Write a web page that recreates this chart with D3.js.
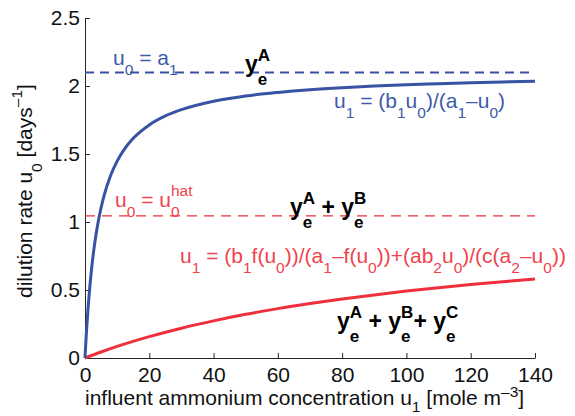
<!DOCTYPE html>
<html>
<head>
<meta charset="utf-8">
<script src="https://cdn.jsdelivr.net/npm/d3@7"></script>
<style>
  body { margin:0; background:#fff; }
  svg { display:block; font-family:"Liberation Sans", Arial, Helvetica, sans-serif; }
</style>
</head>
<body>
<svg id="chart" width="575" height="416"></svg>
<script>
// ===== data =====
const xTicks = [0, 20, 40, 60, 80, 100, 120, 140];
const yTicks = [0, 0.5, 1, 1.5, 2, 2.5];

// blue curve: u1 = (b1 u0)/(a1 - u0)
const blueU1 = [0, 0.25, 0.5, 1, 1.5, 2, 3, 4, 5, 6, 8, 10, 12, 15, 20, 25, 30, 40, 50, 60, 70, 80, 90, 100, 110, 120, 130, 140];
const blueU0 = [0, 0.111, 0.21, 0.382, 0.525, 0.646, 0.84, 0.988, 1.105, 1.2, 1.344, 1.448, 1.527, 1.615, 1.714, 1.78, 1.826, 1.888, 1.927, 1.953, 1.973, 1.988, 2.0, 2.01, 2.017, 2.024, 2.03, 2.035];

// red curve
const redU1 = [0, 5, 10, 20, 30, 40, 50, 60, 70, 80, 90, 100, 110, 120, 130, 140];
const redU0 = [0, 0.044, 0.085, 0.157, 0.219, 0.273, 0.321, 0.363, 0.4, 0.434, 0.464, 0.492, 0.517, 0.54, 0.561, 0.58];

const a1 = 2.1;       // blue dashed level
const u0hat = 1.045;  // red dashed level

const blue = '#3953a4', red = '#ee2f3c';

const svg = d3.select('#chart');
const M = {top:18, right:40, bottom:58, left:85};
const W = 575, H = 416;

const x = d3.scaleLinear().domain([0, 140]).range([M.left, W - M.right]);
const y = d3.scaleLinear().domain([0, 2.5]).range([H - M.bottom, M.top]);

// axes
const xAxisG = svg.append('g')
  .attr('transform', `translate(0,${y(0)})`)
  .call(d3.axisBottom(x).tickValues(xTicks).tickSize(-5).tickSizeOuter(0).tickPadding(9).tickFormat(d3.format('d')));
const yAxisG = svg.append('g')
  .attr('transform', `translate(${x(0)},0)`)
  .call(d3.axisLeft(y).tickValues(yTicks).tickSize(-5).tickSizeOuter(0).tickPadding(5).tickFormat(d => d));
[xAxisG, yAxisG].forEach(g => {
  g.attr('font-family', null).attr('font-size', 21);
  g.selectAll('path, line').attr('stroke', '#262626').attr('stroke-width', 1);
  g.selectAll('text').attr('fill', '#111');
});

// dashed levels
svg.append('line')
  .attr('x1', x(0)).attr('x2', x(140)).attr('y1', y(a1)).attr('y2', y(a1))
  .attr('stroke', blue).attr('stroke-width', 2).attr('stroke-dasharray', '9,6');
svg.append('line')
  .attr('x1', x(0)).attr('x2', x(140)).attr('y1', y(u0hat)).attr('y2', y(u0hat))
  .attr('stroke', red).attr('stroke-width', 1.2).attr('stroke-dasharray', '10,7');

// curves
const line = d3.line().x(d => x(d[0])).y(d => y(d[1])).curve(d3.curveMonotoneX);
svg.append('path').attr('d', line(redU1.map((v, i) => [v, redU0[i]])))
  .attr('fill', 'none').attr('stroke', red).attr('stroke-width', 3);
svg.append('path').attr('d', line(blueU1.map((v, i) => [v, blueU0[i]])))
  .attr('fill', 'none').attr('stroke', blue).attr('stroke-width', 3);

// ===== TeX-like text =====
// mode: n normal, b subscript, p superscript, s superscript stacked over the previous subscript
function tex(g, x0, y0, parts, st){
  let cx = x0, subStart = x0;
  parts.forEach(([s, m]) => {
    const fs = m === 'n' ? st.size : st.size * 0.74;
    let px = cx, py = y0;
    if (m === 'b'){ py = y0 + st.sub; subStart = cx; }
    if (m === 'p'){ py = y0 - st.sup; }
    if (m === 's'){ px = subStart; py = y0 - st.sup; }
    const t = g.append('text').attr('x', px).attr('y', py)
      .attr('font-size', fs).attr('font-weight', st.weight || 'normal')
      .attr('fill', st.color).style('white-space', 'pre').text(s);
    const w = t.node().getComputedTextLength();
    cx = m === 's' ? Math.max(cx, px + w) : px + w;
  });
}

const gLab = svg.append('g');
const blueTxt = {size:21, color:'#3e5ba9', sub:10, sup:10};
const redTxt = {size:21, color:'#f0434d', sub:10, sup:11};
const boldTxt = {size:23, color:'#000', weight:'bold', sub:13, sup:11};

tex(gLab, 113, 65, [['u','n'],['0','b'],[' = a','n'],['1','b']], blueTxt);
tex(gLab, 334, 108, [['u','n'],['1','b'],[' = (b','n'],['1','b'],['u','n'],['0','b'],[')/(a','n'],['1','b'],['–u','n'],['0','b'],[')','n']], blueTxt);
tex(gLab, 245, 72, [['y','n'],['e','b'],['A','s']], boldTxt);

tex(gLab, 115, 207, [['u','n'],['0','b'],[' = u','n'],['0','b'],['hat','s']], redTxt);
tex(gLab, 290, 215, [['y','n'],['e','b'],['A','s'],[' + y','n'],['e','b'],['B','s']], boldTxt);
tex(gLab, 180, 263, [['u','n'],['1','b'],[' = (b','n'],['1','b'],['f(u','n'],['0','b'],['))/(a','n'],['1','b'],['–f(u','n'],['0','b'],['))+(ab','n'],['2','b'],['u','n'],['0','b'],[')/(c(a','n'],['2','b'],['–u','n'],['0','b'],['))','n']], redTxt);
tex(gLab, 337, 329, [['y','n'],['e','b'],['A','s'],[' + y','n'],['e','b'],['B','s'],['+ y','n'],['e','b'],['C','s']], boldTxt);

// axis titles
tex(svg.append('g'), 85, 405, [['influent ammonium concentration u','n'],['1','b'],[' [mole m','n'],['–3','p'],[']','n']], {size:21, color:'#111', sub:7, sup:8});
const gy = svg.append('g').attr('transform', 'translate(32,298) rotate(-90)');
tex(gy, 0, 0, [['dilution rate u','n'],['0','b'],[' [days','n'],['–1','p'],[']','n']], {size:21, color:'#111', sub:10, sup:10});
</script>
</body>
</html>
